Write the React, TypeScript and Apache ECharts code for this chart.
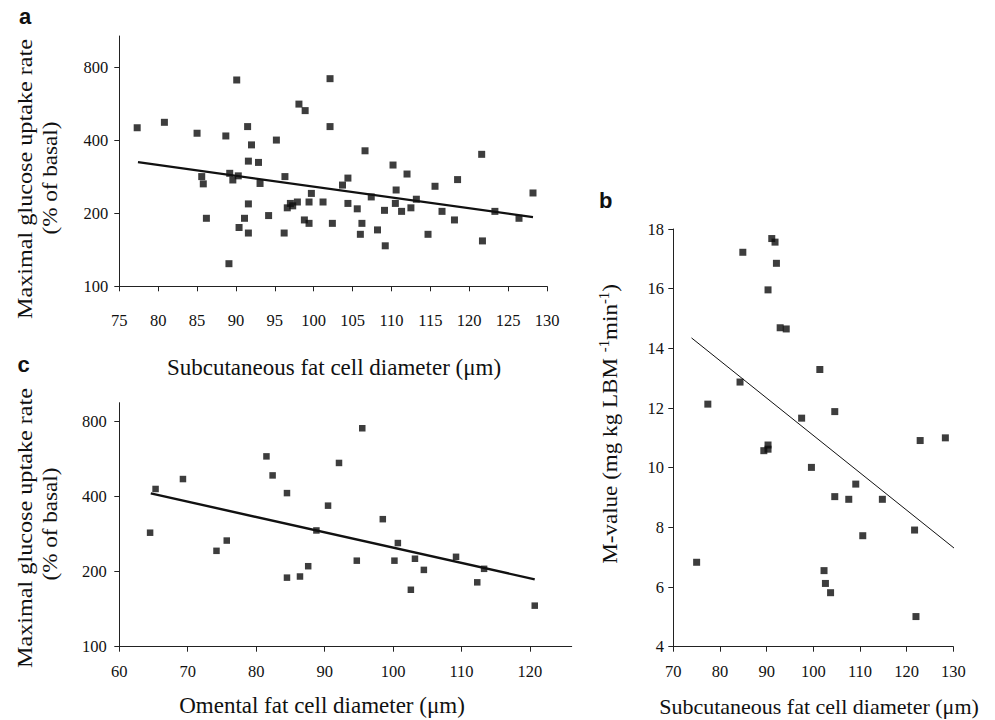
import React, { useEffect, useRef } from "react";
import * as echarts from "echarts";

// Panel a: subcutaneous diameter vs maximal glucose uptake (% of basal)
const aX = [77.3, 80.8, 85.0, 88.7, 90.1, 91.5, 92.0, 91.6, 92.9, 95.2, 98.1, 98.9, 102.1, 102.1, 85.6, 85.8, 89.2, 89.6, 90.3, 93.1, 96.3, 99.7, 91.6, 96.6, 97.0, 97.3, 97.9, 99.4, 101.2, 86.2, 91.1, 94.2, 90.4, 91.6, 96.2, 98.8, 99.4, 102.4, 89.1, 106.6, 110.2, 112.0, 104.4, 103.7, 107.4, 110.6, 115.6, 118.5, 121.6, 128.2, 104.4, 105.6, 109.1, 110.5, 111.3, 112.5, 113.2, 116.5, 123.3, 126.4, 118.1, 106.2, 106.0, 108.2, 114.7, 109.2, 121.7];
const aY = [452, 476, 429, 418, 712, 457, 384, 329, 325, 402, 566, 532, 721, 457, 284, 265, 293, 275, 286, 266, 284, 242, 219, 211, 220, 215, 223, 223, 223, 191, 191, 196, 175, 166, 166, 188, 182, 182, 124, 363, 317, 291, 280, 262, 234, 250, 259, 276, 351, 243, 220, 209, 206, 220, 204, 211, 229, 204, 204, 191, 188, 182, 164, 171, 164, 147, 154];
const aTrendX = [77.4, 128.2];
const aTrendY = [326, 193];

// Panel b: subcutaneous diameter vs M-value
const bX = [84.9, 91.1, 91.8, 92.1, 90.3, 92.9, 94.2, 101.4, 84.3, 77.4, 97.5, 104.6, 89.4, 90.3, 90.3, 99.6, 109.1, 104.6, 107.6, 114.8, 122.9, 128.3, 121.7, 110.6, 75.0, 102.3, 102.6, 103.7, 122.0];
const bY = [17.22, 17.68, 17.56, 16.85, 15.96, 14.69, 14.65, 13.29, 12.87, 12.13, 11.66, 11.88, 10.57, 10.76, 10.62, 10.01, 9.45, 9.03, 8.94, 8.94, 10.91, 11.0, 7.91, 7.72, 6.83, 6.55, 6.12, 5.81, 5.01];
const bTrendX = [73.9, 133.0];
const bTrendY = [14.35, 6.95];

// Panel c: omental diameter vs maximal glucose uptake (% of basal)
const cX = [64.5, 65.3, 69.3, 74.2, 75.7, 81.5, 82.4, 84.5, 84.5, 86.4, 87.6, 88.8, 90.5, 92.1, 95.5, 94.7, 98.5, 100.7, 100.2, 103.2, 104.5, 102.6, 109.2, 113.3, 112.3, 120.7];
const cY = [286, 428, 469, 242, 266, 578, 485, 412, 189, 191, 210, 292, 367, 544, 749, 221, 324, 260, 221, 225, 203, 169, 229, 205, 181, 146];
const cTrendX = [64.6, 120.7];
const cTrendY = [411, 186];

const logTicks = [100, 200, 400, 800];
const cXTicks = [60, 70, 80, 90, 100, 110, 120];

const zip = (xs: number[], ys: number[]) => xs.map((x, i) => [x, ys[i]]);

const SERIF = "Liberation Serif";
const SANS = "Liberation Sans";
const INK = "#111111";

export default function App() {
  const ref = useRef<HTMLDivElement>(null);
  useEffect(() => {
    if (!ref.current) return;
    const chart = echarts.init(ref.current, undefined, { renderer: "svg" });
    const line = { lineStyle: { color: "#222", width: 1 } };
    const tick = (len: number) => ({ show: true, length: len, inside: false, lineStyle: { color: "#222", width: 1 } });
    const lbl = (margin: number, extra: any = {}) => ({
      fontFamily: SERIF, fontSize: 16.5, color: INK, margin, ...extra,
    });
    const option: any = {
      animation: false,
      backgroundColor: "#ffffff",
      textStyle: { fontFamily: SERIF, color: INK },
      grid: [
        { left: 119.3, top: 36, width: 427.7, height: 250.3, outerBoundsMode: "none" },
        { left: 673.3, top: 229, width: 280, height: 417.7, outerBoundsMode: "none" },
        { left: 119.3, top: 402.7, width: 452.4, height: 244, outerBoundsMode: "none" },
      ],
      xAxis: [
        {
          type: "value", gridIndex: 0, min: 75, max: 130, interval: 5,
          axisLine: { show: true, ...line }, axisTick: tick(5), axisLabel: lbl(26),
          splitLine: { show: false },
        },
        {
          type: "value", gridIndex: 1, min: 70, max: 130, interval: 10,
          axisLine: { show: true, ...line }, axisTick: tick(5), axisLabel: lbl(16.5),
          splitLine: { show: false },
        },
        {
          type: "value", gridIndex: 2, min: 60, max: 126.1,
          axisLine: { show: true, ...line },
          axisTick: { ...tick(5), customValues: cXTicks },
          axisLabel: lbl(16.5, { customValues: cXTicks }),
          splitLine: { show: false },
        },
      ],
      yAxis: [
        {
          type: "log", logBase: 2, gridIndex: 0, min: 100, max: 1082,
          axisLine: { show: true, ...line },
          axisTick: { ...tick(5), customValues: logTicks },
          axisLabel: lbl(11, { customValues: logTicks }),
          splitLine: { show: false }, minorTick: { show: false },
        },
        {
          type: "value", gridIndex: 1, min: 4, max: 18, interval: 2,
          axisLine: { show: true, ...line }, axisTick: tick(5), axisLabel: lbl(9.3),
          splitLine: { show: false },
        },
        {
          type: "log", logBase: 2, gridIndex: 2, min: 100, max: 948,
          axisLine: { show: true, ...line },
          axisTick: { ...tick(5), customValues: logTicks },
          axisLabel: lbl(12.6, { customValues: logTicks }),
          splitLine: { show: false }, minorTick: { show: false },
        },
      ],
      series: [
        {
          type: "line", xAxisIndex: 0, yAxisIndex: 0, data: zip(aTrendX, aTrendY),
          symbol: "none", lineStyle: { color: INK, width: 2.2 }, silent: true,
        },
        {
          type: "scatter", xAxisIndex: 0, yAxisIndex: 0, data: zip(aX, aY),
          symbol: "rect", symbolSize: 7, itemStyle: { color: "#0d0d0d" },
        },
        {
          type: "line", xAxisIndex: 1, yAxisIndex: 1, data: zip(bTrendX, bTrendY),
          symbol: "none", clip: false, lineStyle: { color: INK, width: 1 }, silent: true,
        },
        {
          type: "scatter", xAxisIndex: 1, yAxisIndex: 1, data: zip(bX, bY),
          symbol: "rect", symbolSize: 7, itemStyle: { color: "#0d0d0d" },
        },
        {
          type: "line", xAxisIndex: 2, yAxisIndex: 2, data: zip(cTrendX, cTrendY),
          symbol: "none", lineStyle: { color: INK, width: 2.4 }, silent: true,
        },
        {
          type: "scatter", xAxisIndex: 2, yAxisIndex: 2, data: zip(cX, cY),
          symbol: "rect", symbolSize: 6.5, itemStyle: { color: "#0d0d0d" },
        },
      ],
      graphic: [
        // panel letters
        { type: "text", x: 19, y: 27.5, style: { text: "a", fontFamily: SANS, fontWeight: "bold", fontSize: 22, fill: INK, align: "left", verticalAlign: "bottom" } },
        { type: "text", x: 599, y: 211, style: { text: "b", fontFamily: SANS, fontWeight: "bold", fontSize: 22, fill: INK, align: "left", verticalAlign: "bottom" } },
        { type: "text", x: 17.5, y: 375, style: { text: "c", fontFamily: SANS, fontWeight: "bold", fontSize: 22, fill: INK, align: "left", verticalAlign: "bottom" } },
        // x titles
        { type: "text", x: 334, y: 367, style: { text: "Subcutaneous fat cell diameter (\u03bcm)", fontFamily: SERIF, fontSize: 23, fill: INK, align: "center", verticalAlign: "middle" } },
        { type: "text", x: 819, y: 706, style: { text: "Subcutaneous fat cell diameter (\u03bcm)", fontFamily: SERIF, fontSize: 22, fill: INK, align: "center", verticalAlign: "middle" } },
        { type: "text", x: 322, y: 705, style: { text: "Omental fat cell diameter (\u03bcm)", fontFamily: SERIF, fontSize: 23, fill: INK, align: "center", verticalAlign: "middle" } },
        // y titles panel a
        { type: "text", x: 24, y: 179, rotation: Math.PI / 2, scaleX: 1.1, style: { text: "Maximal glucose uptake rate", fontFamily: SERIF, fontSize: 22, fill: INK, align: "center", verticalAlign: "middle" } },
        { type: "text", x: 50, y: 178, rotation: Math.PI / 2, scaleX: 1.05, style: { text: "(% of basal)", fontFamily: SERIF, fontSize: 22, fill: INK, align: "center", verticalAlign: "middle" } },
        // y titles panel c
        { type: "text", x: 24, y: 528, rotation: Math.PI / 2, scaleX: 1.1, style: { text: "Maximal glucose uptake rate", fontFamily: SERIF, fontSize: 22, fill: INK, align: "center", verticalAlign: "middle" } },
        { type: "text", x: 50, y: 524, rotation: Math.PI / 2, scaleX: 1.05, style: { text: "(% of basal)", fontFamily: SERIF, fontSize: 22, fill: INK, align: "center", verticalAlign: "middle" } },
        // y title panel b
        {
          type: "text", x: 610, y: 424, rotation: Math.PI / 2, scaleX: 1.05,
          style: {
            text: "{n|M-value (mg kg LBM }{s|-1}{n|min}{s|-1}{n|)}",
            fontFamily: SERIF, fontSize: 22, fill: INK, align: "center", verticalAlign: "middle",
            rich: {
              n: { fontFamily: SERIF, fontSize: 22, lineHeight: 26, fill: INK, verticalAlign: "middle" },
              s: { fontFamily: SERIF, fontSize: 14, lineHeight: 14, fill: INK, verticalAlign: "top" },
            },
          },
        },
      ],
    };
    chart.setOption(option);
    return () => chart.dispose();
  }, []);
  return (
    <div
      ref={ref}
      style={{ position: "fixed", left: 0, top: 0, width: 995, height: 720, background: "#fff" }}
    />
  );
}
